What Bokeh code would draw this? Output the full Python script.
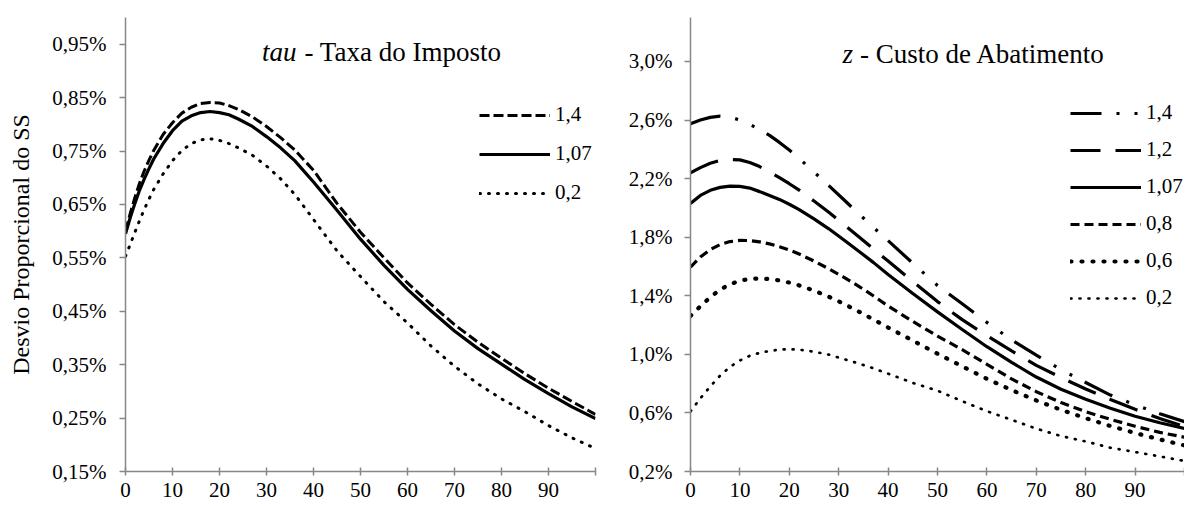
from bokeh.plotting import figure
from bokeh.layouts import row
from bokeh.models import FixedTicker, Legend, LegendItem, Label, Range1d
from bokeh.embed import file_html
from bokeh.resources import INLINE

FONT = "Liberation Serif"

# ---------------- data: left panel (tau - Taxa do Imposto) ----------------
tau_x = [0, 1, 2, 3, 4, 5, 6, 8, 10, 12, 14, 16, 18, 20, 22, 24, 27, 30, 33, 36,
         40, 45, 50, 55, 60, 65, 70, 75, 80, 85, 90, 95, 100]
tau_14 = [0.600, 0.633, 0.663, 0.690, 0.713, 0.733, 0.751, 0.781, 0.803, 0.821, 0.832,
          0.839, 0.841, 0.840, 0.835, 0.828, 0.814, 0.796, 0.775, 0.752,
          0.714, 0.652, 0.598, 0.550, 0.503, 0.463, 0.425, 0.392, 0.362, 0.333,
          0.306, 0.281, 0.257]
tau_107 = [0.595, 0.625, 0.652, 0.677, 0.698, 0.717, 0.735, 0.764, 0.788, 0.806, 0.816,
           0.822, 0.824, 0.822, 0.818, 0.810, 0.796, 0.777, 0.756, 0.732,
           0.692, 0.639, 0.585, 0.536, 0.491, 0.451, 0.413, 0.380, 0.351, 0.322,
           0.296, 0.271, 0.249]
tau_02 = [0.553, 0.575, 0.598, 0.620, 0.641, 0.660, 0.678, 0.707, 0.732, 0.751, 0.764,
          0.771, 0.773, 0.770, 0.764, 0.756, 0.742, 0.722, 0.698, 0.669,
          0.622, 0.563, 0.515, 0.468, 0.428, 0.385, 0.347, 0.314, 0.286, 0.262,
          0.236, 0.213, 0.193]
tau_names = ["1,4", "1,07", "0,2"]
tau_yticks = [0.15, 0.25, 0.35, 0.45, 0.55, 0.65, 0.75, 0.85, 0.95]
tau_ytick_labels = ["0,15%", "0,25%", "0,35%", "0,45%", "0,55%", "0,65%", "0,75%", "0,85%", "0,95%"]

# ---------------- data: right panel (z - Custo de Abatimento) ----------------
z_x = [0, 2, 4, 6, 8, 10, 12, 14, 16, 18, 20, 22, 25, 28, 31, 34, 37, 40,
       45, 50, 55, 60, 65, 70, 75, 80, 85, 90, 95, 100]
z_14 = [2.575, 2.600, 2.618, 2.626, 2.620, 2.600, 2.570, 2.535, 2.495, 2.447, 2.395,
        2.338, 2.245, 2.152, 2.057, 1.962, 1.868, 1.776, 1.622, 1.470, 1.345, 1.218,
        1.098, 0.994, 0.895, 0.808, 0.722, 0.655, 0.595, 0.540]
z_12 = [2.240, 2.275, 2.305, 2.324, 2.331, 2.328, 2.310, 2.282, 2.245, 2.207, 2.165,
        2.121, 2.047, 1.970, 1.888, 1.805, 1.720, 1.637, 1.497, 1.360, 1.237, 1.127,
        1.023, 0.925, 0.842, 0.763, 0.692, 0.625, 0.562, 0.507]
z_107 = [2.030, 2.085, 2.120, 2.140, 2.149, 2.147, 2.135, 2.111, 2.085, 2.058, 2.025,
         1.988, 1.925, 1.857, 1.782, 1.706, 1.628, 1.545, 1.415, 1.290, 1.170, 1.052,
         0.945, 0.845, 0.762, 0.693, 0.632, 0.577, 0.533, 0.494]
z_08 = [1.595, 1.665, 1.715, 1.750, 1.770, 1.778, 1.777, 1.768, 1.754, 1.735, 1.712,
        1.685, 1.637, 1.584, 1.527, 1.466, 1.400, 1.330, 1.225, 1.125, 1.032, 0.932,
        0.832, 0.745, 0.671, 0.608, 0.556, 0.509, 0.467, 0.434]
z_06 = [1.262, 1.328, 1.390, 1.443, 1.478, 1.503, 1.515, 1.519, 1.514, 1.505, 1.490,
        1.471, 1.435, 1.393, 1.346, 1.293, 1.239, 1.183, 1.094, 1.004, 0.918, 0.833,
        0.756, 0.685, 0.621, 0.564, 0.511, 0.463, 0.419, 0.378]
z_02 = [0.610, 0.700, 0.780, 0.855, 0.915, 0.958, 0.990, 1.010, 1.023, 1.032, 1.035,
        1.032, 1.018, 0.998, 0.968, 0.938, 0.905, 0.868, 0.805, 0.752, 0.680, 0.612,
        0.553, 0.493, 0.442, 0.405, 0.362, 0.333, 0.303, 0.272]
z_names = ["1,4", "1,2", "1,07", "0,8", "0,6", "0,2"]
z_yticks = [0.2, 0.6, 1.0, 1.4, 1.8, 2.2, 2.6, 3.0]
z_ytick_labels = ["0,2%", "0,6%", "1,0%", "1,4%", "1,8%", "2,2%", "2,6%", "3,0%"]

x_ticks = [0, 10, 20, 30, 40, 50, 60, 70, 80, 90, 100]
x_tick_labels = ["0", "10", "20", "30", "40", "50", "60", "70", "80", "90", ""]

AXIS_COLOR = "#878787"
H = 505


def make_fig(width, ylo, yhi, yticks, ylabels, bl, br):
    p = figure(width=width, height=H, x_range=Range1d(0, 100), y_range=Range1d(ylo, yhi),
               output_backend="svg", toolbar_location=None,
               min_border_left=bl, min_border_right=br, min_border_top=17, min_border_bottom=34)
    p.outline_line_color = None
    p.grid.visible = False
    xa = p.xaxis[0]
    xa.ticker = FixedTicker(ticks=x_ticks)
    xa.major_label_overrides = {t: s for t, s in zip(x_ticks, x_tick_labels)}
    ya = p.yaxis[0]
    ya.ticker = FixedTicker(ticks=yticks)
    ya.major_label_overrides = {t: s for t, s in zip(yticks, ylabels)}
    for ax in (xa, ya):
        ax.axis_line_color = AXIS_COLOR
        ax.axis_line_width = 1.5
        ax.major_tick_line_color = AXIS_COLOR
        ax.major_tick_line_width = 1.5
        ax.minor_tick_line_color = None
        ax.major_label_text_font = FONT
        ax.major_label_text_font_size = "21px"
        ax.major_label_text_color = "black"
    xa.major_tick_in = 4
    xa.major_tick_out = 4
    xa.major_label_standoff = 7
    ya.major_tick_in = 0
    ya.major_tick_out = 6
    ya.major_label_standoff = 13
    return p


def style_legend(p, items, loc, spacing):
    leg = Legend(items=items, location=loc, orientation="vertical",
                 glyph_width=71, glyph_height=24, label_height=24, spacing=spacing,
                 padding=0, margin=0, border_line_color=None, background_fill_alpha=0,
                 label_text_font=FONT, label_text_font_size="21px", label_text_color="black",
                 label_standoff=5)
    p.add_layout(leg)


# ---------------- left figure ----------------
p1 = make_fig(620, 0.15, 1.0, tau_yticks, tau_ytick_labels, 125, 25)
ya1 = p1.yaxis[0]
ya1.axis_label = "Desvio Proporcional do SS"
ya1.axis_label_text_font = FONT
ya1.axis_label_text_font_size = "24px"
ya1.axis_label_text_font_style = "normal"
ya1.axis_label_text_color = "black"
ya1.axis_label_standoff = 15

r14 = p1.line(tau_x, tau_14, line_color="black", line_width=3, line_dash="10 4")
r107 = p1.line(tau_x, tau_107, line_color="black", line_width=3.2)
r02 = p1.line(tau_x, tau_02, line_color="black", line_width=3, line_dash="1 8", line_cap="round")
style_legend(p1, [LegendItem(label=tau_names[0], renderers=[r14]),
                  LegendItem(label=tau_names[1], renderers=[r107]),
                  LegendItem(label=tau_names[2], renderers=[r02])], (354, 266), 14)
p1.add_layout(Label(x=36.4, y=0.935, text="tau", text_align="right", text_baseline="alphabetic",
                    text_font=FONT, text_font_style="italic", text_font_size="27px", text_color="black"))
p1.add_layout(Label(x=38.1, y=0.935, text="- Taxa do Imposto", text_align="left", text_baseline="alphabetic",
                    text_font=FONT, text_font_size="27px", text_color="black"))

# ---------------- right figure ----------------
p2 = make_fig(564, 0.2, 3.3, z_yticks, z_ytick_labels, 70, 0)
ya2 = p2.yaxis[0]
ya2.major_label_standoff = 12

s14 = p2.line(z_x, z_14, line_color="black", line_width=3.2, line_dash="31 15 3 15 3 14")
s12 = p2.line(z_x, z_12, line_color="black", line_width=3.2, line_dash="30 15")
s107 = p2.line(z_x, z_107, line_color="black", line_width=3.2)
s08 = p2.line(z_x, z_08, line_color="black", line_width=3.2, line_dash="9 5")
s06 = p2.line(z_x, z_06, line_color="black", line_width=4.2, line_dash="1 10", line_cap="round")
s02 = p2.line(z_x, z_02, line_color="black", line_width=2.7, line_dash="1 8", line_cap="round")
style_legend(p2, [LegendItem(label=n, renderers=[r]) for n, r in
                  zip(z_names, [s14, s12, s107, s08, s06, s02])], (380, 161), 12)
p2.add_layout(Label(x=32.9, y=3.054, text="z", text_align="right", text_baseline="alphabetic",
                    text_font=FONT, text_font_style="italic", text_font_size="27px", text_color="black"))
p2.add_layout(Label(x=34.3, y=3.054, text="- Custo de Abatimento", text_align="left", text_baseline="alphabetic",
                    text_font=FONT, text_font_size="27px", text_color="black"))

layout = row(p1, p2)
open("out.html", "w").write(file_html(layout, INLINE))
